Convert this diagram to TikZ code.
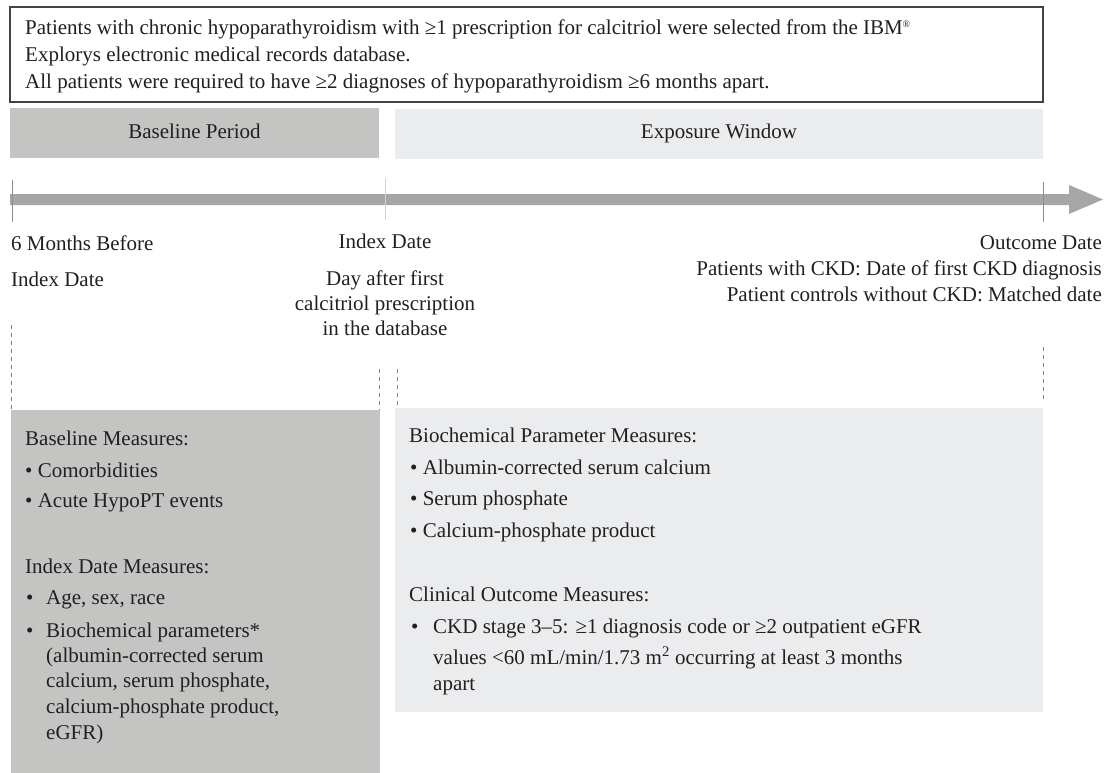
\documentclass[tikz,border=0pt]{standalone}
\usepackage{fontspec}
\setmainfont{Liberation Serif}
\definecolor{txtc}{HTML}{231F20}
\definecolor{darkbox}{HTML}{C4C4C3}
\definecolor{lightbox}{HTML}{EBECEE}
\definecolor{arrowc}{HTML}{A6A6A6}
\definecolor{tickdark}{HTML}{8C8C8C}
\definecolor{ticklight}{HTML}{D2D2D2}
\definecolor{dashc}{HTML}{7F7F7F}
\begin{document}
\begin{tikzpicture}[x=1pt,y=-1pt,
  lbl/.style={font=\fontsize{21}{25}\selectfont, text=txtc, inner sep=0pt},
  lw/.style={lbl, anchor=base west},
  lc/.style={lbl, anchor=base},
  le/.style={lbl, anchor=base east},
  framebox/.style={draw=txtc!85, line width=1.1pt, fill=white},
  darkfill/.style={fill=darkbox},
  lightfill/.style={fill=lightbox},
  dashline/.style={draw=dashc, line width=0.6pt, dash pattern=on 4pt off 4pt},
  tickline/.style={line width=0.9pt}
]
\useasboundingbox (0,0) rectangle (1106,773);

% top frame
\path[framebox] (10,7) rectangle (1043,102);
\node[lw] (t1) at (25,35) {Patients with chronic hypoparathyroidism with ≥1 prescription for calcitriol were selected from the IBM\raisebox{7pt}{\fontsize{10}{10}\selectfont ®}};
\node[lw] (t2) at (25,62) {Explorys electronic medical records database.};
\node[lw] (t3) at (25,89) {All patients were required to have ≥2 diagnoses of hypoparathyroidism ≥6 months apart.};

% period bars
\path[darkfill] (10,108) rectangle (379,158);
\path[lightfill] (395,109) rectangle (1043,159);
\node[lc] (bp) at (194.5,139) {Baseline Period};
\node[lc] (ew) at (719,139) {Exposure Window};

% timeline arrow
\fill[arrowc] (10,194) -- (1069,194) -- (1069,185) -- (1103,199.5) -- (1069,214) -- (1069,205) -- (10,205) -- cycle;
\draw[tickline, draw=tickdark] (12.5,180) -- (12.5,222);
\draw[tickline, draw=ticklight] (385,178) -- (385,220);
\draw[tickline, draw=tickdark] (1043,182) -- (1043,222);

% timeline labels
\node[lw] (m1) at (11,250) {6 Months Before};
\node[lw] (m2) at (11,286) {Index Date};
\node[lc] (i1) at (385,248) {Index Date};
\node[lc] (i2) at (385,285) {Day after first};
\node[lc] (i3) at (385,310) {calcitriol prescription};
\node[lc] (i4) at (385,335) {in the database};
\node[le] (o1) at (1102,249) {Outcome Date};
\node[le] (o2) at (1102,275) {Patients with CKD: Date of first CKD diagnosis};
\node[le] (o3) at (1102,301) {Patient controls without CKD: Matched date};

% bottom boxes
\path[darkfill] (11,410) rectangle (380,773);
\path[lightfill] (395,408) rectangle (1043,712);
\coordinate (lbnw) at (11,410);
\coordinate (lbne) at (379,410);
\coordinate (rbnw) at (397,408);
\coordinate (rbne) at (1043,400);

% dashed connectors
\coordinate (d1) at (11,325);
\coordinate (d2) at (379,369);
\coordinate (d3) at (397,369);
\coordinate (d4) at (1043,347);
\draw[dashline] (d1) -- (lbnw);
\draw[dashline] (d2) -- (lbne);
\draw[dashline] (d3) -- (rbnw);
\draw[dashline] (d4) -- (rbne);

% left box text
\node[lw] (a1) at (25,445) {Baseline Measures:};
\node[lw] (a2) at (25,477) {• Comorbidities};
\node[lw] (a3) at (25,507) {• Acute HypoPT events};
\node[lw] (a4) at (25,573) {Index Date Measures:};
\node[lw] (b1) at (26,604) {•};
\node[lw] (a5) at (46,604) {Age, sex, race};
\node[lw] (b2) at (26,637) {•};
\node[lw] (a6) at (46,637) {Biochemical parameters*};
\node[lw] (a7) at (46,662) {(albumin-corrected serum};
\node[lw] (a8) at (46,687) {calcium, serum phosphate,};
\node[lw] (a9) at (46,713) {calcium-phosphate product,};
\node[lw] (a10) at (46,739) {eGFR)};

% right box text
\node[lw] (r1) at (409,442) {Biochemical Parameter Measures:};
\node[lw] (r2) at (410,474) {• Albumin-corrected serum calcium};
\node[lw] (r3) at (410,505) {• Serum phosphate};
\node[lw] (r4) at (410,537) {• Calcium-phosphate product};
\node[lw] (r5) at (409,601) {Clinical Outcome Measures:};
\node[lw] (b3) at (411,633) {•};
\node[lw] (r6) at (433,633) {CKD stage 3–5: ≥1 diagnosis code or ≥2 outpatient eGFR};
\node[lw] (r7) at (433,664) {values <60 mL/min/1.73 m\textsuperscript{2} occurring at least 3 months};
\node[lw] (r8) at (433,690) {apart};
\end{tikzpicture}
\end{document}
